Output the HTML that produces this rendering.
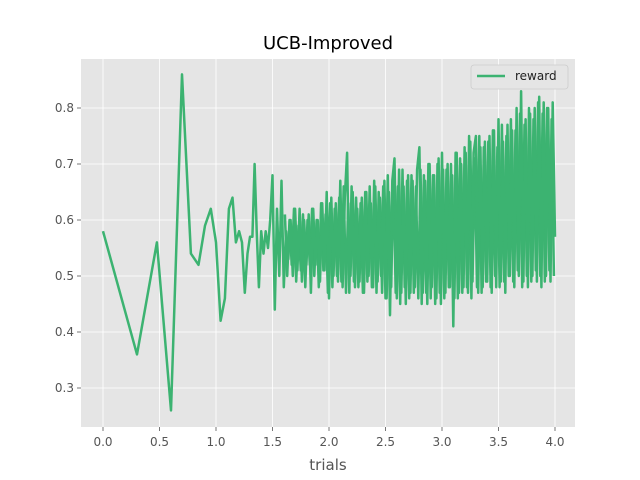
<!DOCTYPE html>
<html><head><meta charset="utf-8"><style>
body{margin:0;background:#fff;}
svg{display:block;font-family:"DejaVu Sans","Liberation Sans",sans-serif;}
</style></head><body>
<svg id="chart" width="640" height="480">
<rect x="81" y="59" width="494" height="368" fill="#E5E5E5"/>
<g id="grid"></g><g id="ticks"></g><g id="series"></g>
<text x="328" y="49" text-anchor="middle" font-size="18" fill="#000">UCB-Improved</text>
<text x="328" y="470" text-anchor="middle" font-size="15" fill="#555">trials</text>
<g>
<rect x="471" y="65" width="97" height="24" rx="3" fill="#E5E5E5" stroke="#ccc" stroke-width="0.8"/>
<line x1="477" y1="76" x2="505" y2="76" stroke="#3CB371" stroke-width="2.5"/>
<text x="515" y="80" font-size="12" fill="#222">reward</text>
</g>
</svg>
<script>
const earlyLogTrials=[0,0.301,0.477,0.602,0.699,0.778,0.845,0.903,0.954,1.0,1.041,1.079,1.114,1.146,1.176,1.204,1.230,1.255,1.279,1.301,1.322,1.342];
const earlyRewards=[0.58,0.36,0.56,0.26,0.86,0.54,0.52,0.59,0.62,0.56,0.42,0.46,0.62,0.64,0.56,0.58,0.56,0.47,0.54,0.57,0.57,0.70];
const denseStart=1.36;
const denseStep=0.02;
const denseRewards=[0.58,0.48,0.58,0.54,0.58,0.55,0.60,0.68,0.44,0.62,0.50,0.67,0.48,0.58,0.53,0.60,0.50,0.62,0.51,0.62,0.49,0.60,0.52,0.61,0.47,0.62,0.52,0.60,0.49,0.63,0.51,0.65,0.46,0.64,0.50,0.63,0.49,0.67,0.48,0.64,0.72,0.47,0.66,0.49,0.64,0.48,0.63,0.47,0.65,0.49,0.66,0.48,0.67,0.47,0.65,0.50,0.66,0.46,0.68,0.43,0.67,0.71,0.46,0.69,0.47,0.66,0.45,0.68,0.47,0.67,0.48,0.69,0.73,0.45,0.68,0.47,0.70,0.46,0.68,0.45,0.70,0.47,0.72,0.46,0.69,0.48,0.70,0.41,0.72,0.46,0.71,0.47,0.73,0.48,0.75,0.46,0.72,0.75,0.47,0.73,0.48,0.74,0.49,0.75,0.47,0.76,0.48,0.78,0.49,0.74,0.47,0.77,0.50,0.76,0.48,0.80,0.50,0.83,0.49,0.78,0.48,0.79,0.50,0.80,0.49,0.82,0.48,0.81,0.50,0.80,0.49,0.81,0.57];
const midStart=1.61;
const midStep=0.02;
const midRewards=[0.61,0.50,0.60,0.52,0.62,0.49,0.59,0.51,0.61,0.48,0.60,0.52,0.62,0.50,0.60,0.48,0.63,0.51,0.61,0.47,
0.63,0.48,0.62,0.50,0.64,0.49,0.66,0.47,0.63,0.50,0.65,0.48,0.62,0.49,0.64,0.47,0.65,0.50,0.63,0.48,
0.66,0.49,0.64,0.47,0.67,0.46,0.65,0.48,0.68,0.47,0.66,0.45,0.69,0.48,0.67,0.46,0.68,0.47,0.66,0.46,
0.69,0.47,0.67,0.45,0.70,0.48,0.68,0.46,0.71,0.45,0.69,0.47,0.70,0.48,0.68,0.46,0.72,0.47,0.70,0.48,
0.72,0.47,0.74,0.49,0.71,0.48,0.75,0.47,0.73,0.49,0.74,0.48,0.76,0.50,0.73,0.48,0.77,0.49,0.75,0.50,
0.78,0.49,0.76,0.51,0.79,0.48,0.77,0.50,0.80,0.49,0.78,0.51,0.81,0.50,0.79,0.49,0.80,0.51,0.78,0.50];
const xTicks=[0,0.5,1,1.5,2,2.5,3,3.5,4];
const xTickLabels=["0.0","0.5","1.0","1.5","2.0","2.5","3.0","3.5","4.0"];
const yTicks=[0.3,0.4,0.5,0.6,0.7,0.8];
const yTickLabels=["0.3","0.4","0.5","0.6","0.7","0.8"];
const NS="http://www.w3.org/2000/svg";
const xS=v=>103+v*113;
const yS=v=>108+(0.8-v)*560;
function mk(tag,attrs,parent){const e=document.createElementNS(NS,tag);for(const k in attrs)e.setAttribute(k,attrs[k]);parent.appendChild(e);return e;}
const grid=document.getElementById('grid'),ticks=document.getElementById('ticks'),series=document.getElementById('series');
xTicks.forEach((t,i)=>{
 const g=mk('line',{x1:xS(t),x2:xS(t),y1:59,y2:427,stroke:'#fff','stroke-width':0.8},grid);
 
 
 mk('line',{x1:xS(t),x2:xS(t),y1:427,y2:431,stroke:'#555','stroke-width':0.8},ticks);
 const tx=mk('text',{x:xS(t),y:446,'text-anchor':'middle','font-size':12,fill:'#555'},ticks);
 tx.textContent=xTickLabels[i];
 
 
});
yTicks.forEach((t,i)=>{
 const g=mk('line',{x1:81,x2:575,y1:yS(t),y2:yS(t),stroke:'#fff','stroke-width':0.8},grid);
 
 
 mk('line',{x1:77,x2:81,y1:yS(t),y2:yS(t),stroke:'#555','stroke-width':0.8},ticks);
 const tx=mk('text',{x:74,y:yS(t)+4,'text-anchor':'end','font-size':12,fill:'#555'},ticks);
 tx.textContent=yTickLabels[i];
 
 
});
const pts=[];
earlyLogTrials.forEach((x,i)=>pts.push([xS(x),yS(earlyRewards[i])]));
denseRewards.forEach((v,i)=>pts.push([xS(denseStart+i*denseStep),yS(v)]));
const fmt=a=>a.map(q=>q[0].toFixed(1)+','+q[1].toFixed(1)).join(' ');
const mpts=midRewards.map((v,i)=>[xS(midStart+i*midStep),yS(v)]);
const p2=mk('polyline',{points:fmt(mpts),fill:'none',stroke:'#3CB371','stroke-width':2.5,'stroke-linejoin':'round'},series);


const p=mk('polyline',{points:fmt(pts),fill:'none',stroke:'#3CB371','stroke-width':2.5,'stroke-linejoin':'round'},series);


</script>
</body></html>
